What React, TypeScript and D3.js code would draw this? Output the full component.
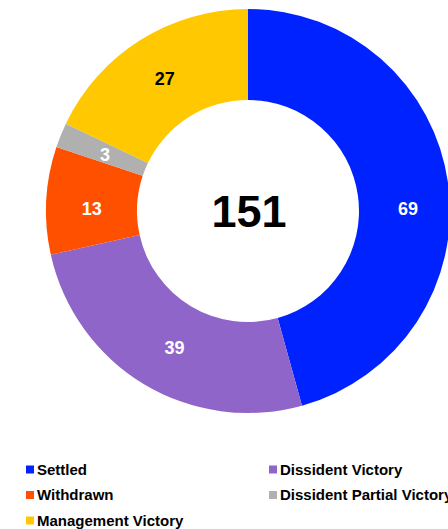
import React from "react";
import * as d3 from "d3";

const categories = ["Settled", "Dissident Victory", "Withdrawn", "Dissident Partial Victory", "Management Victory"];
const values = [69, 39, 13, 3, 27];
const colors = ["#0022FF", "#9065C9", "#FF5000", "#B0B0B0", "#FFC800"];
const labelColors = ["#FFFFFF", "#FFFFFF", "#FFFFFF", "#FFFFFF", "#000000"];
const totalLabel = "151";

// label nudges (styling only) to mimic the original label placement
const labelNudge: Record<string, [number, number]> = {
  "Settled": [5, 19],
  "Dissident Victory": [7, 2],
  "Withdrawn": [0, 6],
  "Dissident Partial Victory": [2, 2],
  "Management Victory": [0, 0],
};

const W = 448;
const H = 529;
const cx = 248;
const cy = 211;
const outerR = 202;
const innerR = 111;
const font = "'Liberation Sans', Arial, Helvetica, sans-serif";

export default function App() {
  const pie = d3.pie<number>().sort(null).value((d) => d)(values);
  const arc = d3.arc<d3.PieArcDatum<number>>().innerRadius(innerR).outerRadius(outerR);

  const legendX = [26, 269];
  const legendY0 = 469.5;
  const legendDY = 25.5;

  return (
    <svg width={W} height={H} style={{ position: "absolute", left: 0, top: 0, background: "#fff" }}>
      <g transform={`translate(${cx},${cy})`}>
        {pie.map((p, i) => (
          <path key={categories[i]} d={arc(p) || ""} fill={colors[i]} />
        ))}
        {pie.map((p, i) => {
          const [x, y] = arc.centroid(p);
          const [nx, ny] = labelNudge[categories[i]];
          return (
            <text
              key={"l" + i}
              x={x + nx}
              y={y + ny}
              dy="0.36em"
              textAnchor="middle"
              fontFamily={font}
              fontWeight="bold"
              fontSize={18}
              fill={labelColors[i]}
            >
              {values[i]}
            </text>
          );
        })}
        <text
          x={1}
          y={0}
          dy="0.36em"
          textAnchor="middle"
          fontFamily={font}
          fontWeight="bold"
          fontSize={45}
          fill="#000"
        >
          {totalLabel}
        </text>
      </g>
      {categories.map((c, i) => {
        const col = i % 2;
        const row = Math.floor(i / 2);
        const x = legendX[col];
        const y = legendY0 + row * legendDY;
        return (
          <g key={"lg" + i}>
            <rect x={x} y={y - 4} width={8} height={8} fill={colors[i]} />
            <text
              x={x + 11}
              y={y}
              dy="0.36em"
              fontFamily={font}
              fontWeight="bold"
              fontSize={15}
              fill="#000"
            >
              {c}
            </text>
          </g>
        );
      })}
    </svg>
  );
}
